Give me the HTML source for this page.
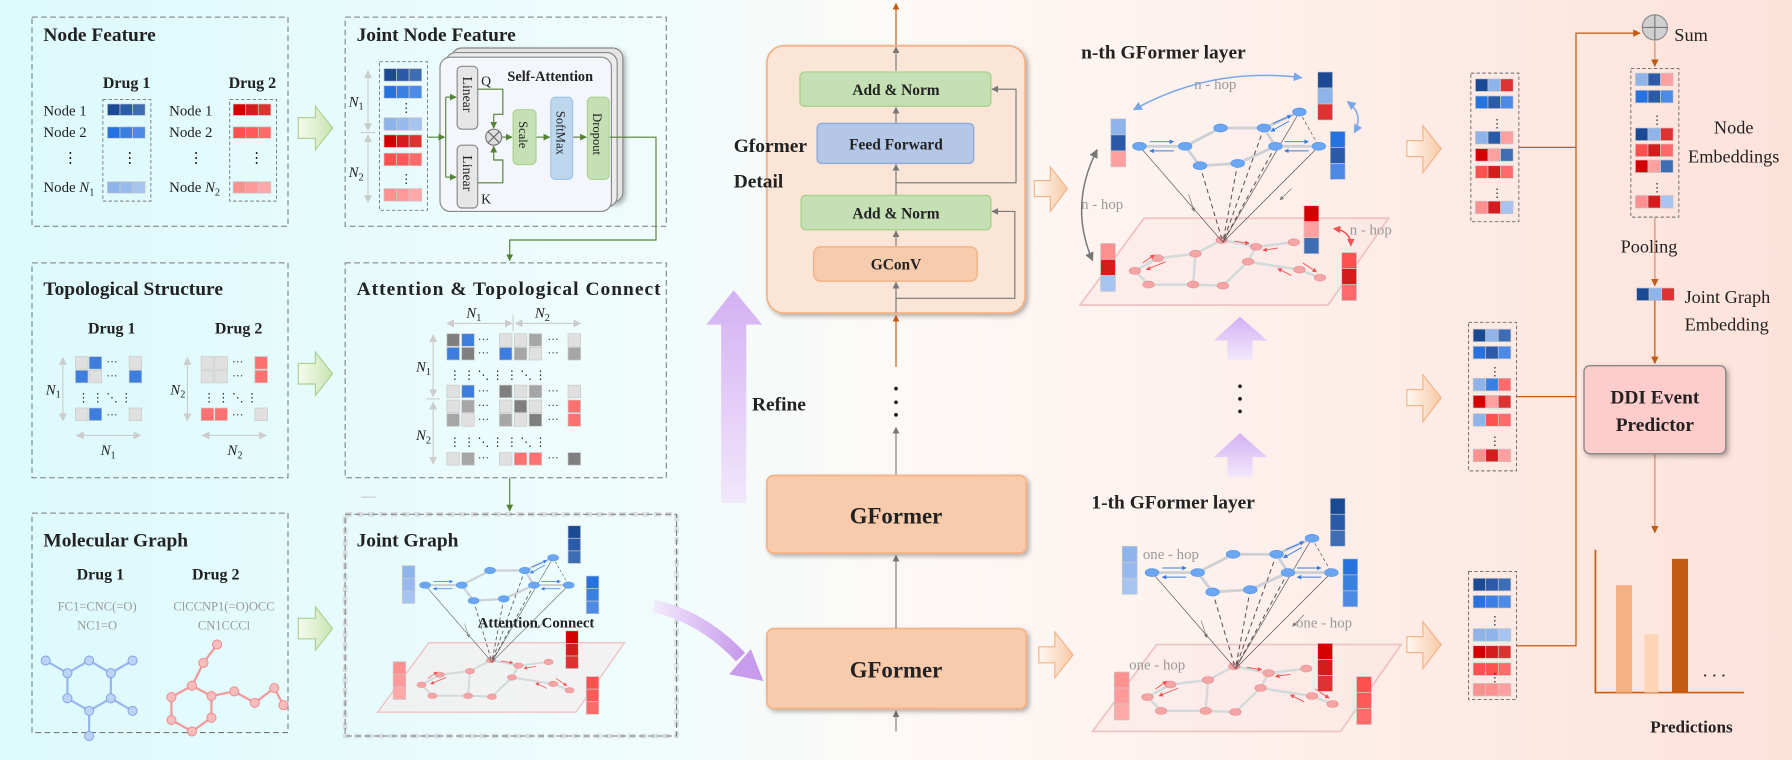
<!DOCTYPE html>
<html><head><meta charset="utf-8"><style>
html,body{margin:0;padding:0;width:1792px;height:760px;overflow:hidden;background:#fff}
svg{display:block}
text{font-family:"Liberation Serif",serif;fill:#222}
.t{font-weight:bold;font-size:17px}
.b{font-weight:bold}
</style></head><body>
<svg width="1792" height="760" viewBox="0 0 1568 665" xmlns="http://www.w3.org/2000/svg">
<defs>
<linearGradient id="bg" x1="0" x2="1" y1="0" y2="0">
<stop offset="0" stop-color="#dcfafc"/><stop offset="0.36" stop-color="#f0fcfc"/><stop offset="0.5" stop-color="#fdf9f7"/><stop offset="1" stop-color="#fde2da"/></linearGradient>
<linearGradient id="ga" x1="0" x2="1"><stop offset="0" stop-color="#f6fbef"/><stop offset="1" stop-color="#c9e3b3"/></linearGradient>
<linearGradient id="oa" x1="0" x2="1"><stop offset="0" stop-color="#fff8f2"/><stop offset="1" stop-color="#f7c9a6"/></linearGradient>
<linearGradient id="pu" x1="0" x2="0" y1="0" y2="1"><stop offset="0" stop-color="#d4b0f3"/><stop offset="1" stop-color="#f1e8fb"/></linearGradient>
<linearGradient id="pu2" x1="0" x2="1"><stop offset="0" stop-color="#f3eafc"/><stop offset="1" stop-color="#c89cec"/></linearGradient>
<marker id="mg" viewBox="0 0 10 10" refX="9" refY="5" markerWidth="6" markerHeight="6" orient="auto-start-reverse"><path d="M0,0L10,5L0,10z" fill="#777"/></marker>
<marker id="mgl" viewBox="0 0 10 10" refX="9" refY="5" markerWidth="7" markerHeight="7" orient="auto-start-reverse"><path d="M0,0L10,5L0,10z" fill="#ccc"/></marker>
<marker id="mgr" viewBox="0 0 10 10" refX="9" refY="5" markerWidth="6" markerHeight="6" orient="auto-start-reverse"><path d="M0,0L10,5L0,10z" fill="#548235"/></marker>
<marker id="mo" viewBox="0 0 10 10" refX="9" refY="5" markerWidth="6" markerHeight="6" orient="auto-start-reverse"><path d="M0,0L10,5L0,10z" fill="#c55a11"/></marker>
<marker id="mb" viewBox="0 0 10 10" refX="9" refY="5" markerWidth="6" markerHeight="6" orient="auto-start-reverse"><path d="M0,0L10,5L0,10z" fill="#7aa6ea"/></marker>
<marker id="mbb" viewBox="0 0 10 10" refX="9" refY="5" markerWidth="5" markerHeight="5" orient="auto"><path d="M0,0L10,5L0,10z" fill="#3a7be0"/></marker>
<marker id="mr" viewBox="0 0 10 10" refX="9" refY="5" markerWidth="5" markerHeight="5" orient="auto-start-reverse"><path d="M0,0L10,5L0,10z" fill="#f05050"/></marker>
<filter id="sh" x="-10%" y="-10%" width="130%" height="130%"><feDropShadow dx="2" dy="2" stdDeviation="2" flood-color="#000" flood-opacity="0.3"/></filter>
<g id="net">
<polygon points="1001,191 1215,191 1162,267 945,267" fill="#fbe4e4" fill-opacity="0.4" stroke="#efc2c2" stroke-width="1.5"/>
<g stroke="#d3dada" stroke-width="2.2" fill="none">
<polyline points="993,237 1013,226 1046,222 1069,210 1099,216 1132,212"/>
<polyline points="993,237 1005,249 1044,249 1046,222"/>
<polyline points="1099,216 1092,229 1137,236 1155,243"/>
<polyline points="1092,229 1070,250"/>
<polyline points="1044,249 1070,250"/>
</g>
<g fill="#f4a5a5" stroke="#ec8c8c" stroke-width="0.6">
<ellipse cx="993" cy="237" rx="5" ry="3"/><ellipse cx="1013" cy="226" rx="5" ry="3"/><ellipse cx="1046" cy="222" rx="5" ry="3"/><ellipse cx="1069" cy="210" rx="5" ry="3"/><ellipse cx="1099" cy="216" rx="5" ry="3"/><ellipse cx="1132" cy="212" rx="5" ry="3"/><ellipse cx="1092" cy="229" rx="5" ry="3"/><ellipse cx="1137" cy="236" rx="5" ry="3"/><ellipse cx="1155" cy="243" rx="5" ry="3"/><ellipse cx="1005" cy="249" rx="5" ry="3"/><ellipse cx="1044" cy="249" rx="5" ry="3"/><ellipse cx="1070" cy="250" rx="5" ry="3"/>
</g>
<g stroke="#f05050" stroke-width="0.8">
<line x1="1000" y1="230" x2="1010" y2="223" marker-end="url(#mr)"/><line x1="1020" y1="229" x2="1003" y2="236" marker-end="url(#mr)"/>
<line x1="1080" y1="211" x2="1093" y2="213" marker-end="url(#mr)"/><line x1="1118" y1="217" x2="1105" y2="219" marker-end="url(#mr)"/>
<line x1="1140" y1="230" x2="1152" y2="238" marker-end="url(#mr)"/><line x1="1130" y1="241" x2="1118" y2="235" marker-end="url(#mr)"/>
</g>
<g stroke="#cdd1d6" stroke-width="2.5" fill="none">
<polyline points="997,128 1037,128 1068,112 1106,112 1137,98"/>
<polyline points="1106,112 1116,128 1154,128"/>
<polyline points="1116,128 1083,143 1050,145 1037,128"/>
</g>
<g stroke="#555" stroke-width="0.6" fill="none">
<line x1="997" y1="128" x2="1070" y2="212"/><line x1="1137" y1="98" x2="1070" y2="212"/><line x1="1154" y1="128" x2="1070" y2="212"/>
<line x1="1137" y1="98" x2="1154" y2="128" stroke-dasharray="3,2"/>
<g stroke-dasharray="4,3" stroke-width="0.9"><line x1="1050" y1="145" x2="1070" y2="212"/><line x1="1106" y1="112" x2="1070" y2="212"/><line x1="1116" y1="128" x2="1070" y2="212"/><line x1="1083" y1="143" x2="1070" y2="212"/></g>
<line x1="1040" y1="170" x2="1045" y2="185" stroke="#777" marker-end="url(#mg)"/><line x1="1130" y1="165" x2="1120" y2="175" stroke="#777" marker-end="url(#mg)"/>
</g>
<g fill="#6aa6f2" stroke="#5896e6" stroke-width="0.6">
<ellipse cx="997" cy="128" rx="6" ry="3.5"/><ellipse cx="1037" cy="128" rx="6" ry="3.5"/><ellipse cx="1068" cy="112" rx="6" ry="3.5"/><ellipse cx="1106" cy="112" rx="6" ry="3.5"/><ellipse cx="1137" cy="98" rx="6" ry="3.5"/><ellipse cx="1116" cy="128" rx="6" ry="3.5"/><ellipse cx="1154" cy="128" rx="6" ry="3.5"/><ellipse cx="1083" cy="143" rx="6" ry="3.5"/><ellipse cx="1050" cy="145" rx="6" ry="3.5"/>
</g>
<g stroke="#3a7be0" stroke-width="0.8">
<line x1="1006" y1="124" x2="1027" y2="124" marker-end="url(#mbb)"/><line x1="1027" y1="132" x2="1006" y2="132" marker-end="url(#mbb)"/>
<line x1="1114" y1="108" x2="1130" y2="101" marker-end="url(#mbb)"/><line x1="1128" y1="106" x2="1112" y2="115" marker-end="url(#mbb)"/>
<line x1="1124" y1="124" x2="1145" y2="124" marker-end="url(#mbb)"/><line x1="1145" y1="132" x2="1124" y2="132" marker-end="url(#mbb)"/>
</g>
</g>
</defs>
<rect width="1568" height="665" fill="url(#bg)"/>

<!-- ===== Node Feature ===== -->
<rect x="28" y="15" width="224" height="183" fill="none" stroke="#777" stroke-dasharray="5,3" stroke-width="0.9"/>
<text x="38" y="36" class="t">Node Feature</text>
<text x="90" y="77" class="b" font-size="14">Drug 1</text>
<text x="200" y="77" class="b" font-size="14">Drug 2</text>
<g font-size="13">
<text x="38" y="101">Node 1</text><text x="38" y="120">Node 2</text><text x="55" y="142">⋮</text>
<text x="38" y="168">Node <tspan font-style="italic">N</tspan><tspan font-size="9" dy="3">1</tspan></text>
<text x="148" y="101">Node 1</text><text x="148" y="120">Node 2</text><text x="165" y="142">⋮</text>
<text x="148" y="168">Node <tspan font-style="italic">N</tspan><tspan font-size="9" dy="3">2</tspan></text>
<text x="107" y="142">⋮</text><text x="218" y="142">⋮</text>
</g>
<rect x="90" y="87" width="42" height="89" fill="none" stroke="#777" stroke-dasharray="3,2" stroke-width="0.8"/>
<rect x="201" y="87" width="41" height="89" fill="none" stroke="#777" stroke-dasharray="3,2" stroke-width="0.8"/>
<g stroke="#c8c8c8" stroke-width="0.6">
<rect x="94" y="91" width="11" height="10" fill="#1a4a94"/><rect x="105" y="91" width="11" height="10" fill="#2b5aa8"/><rect x="116" y="91" width="11" height="10" fill="#3e6db3"/>
<rect x="94" y="111" width="11" height="10" fill="#2673e0"/><rect x="105" y="111" width="11" height="10" fill="#3a80e0"/><rect x="116" y="111" width="11" height="10" fill="#4d8ae6"/>
<rect x="94" y="159" width="11" height="10" fill="#8fb4ea"/><rect x="105" y="159" width="11" height="10" fill="#97b9ee"/><rect x="116" y="159" width="11" height="10" fill="#a7c4f0"/>
<rect x="204" y="91" width="11" height="10" fill="#d40000"/><rect x="215" y="91" width="11" height="10" fill="#d41c1c"/><rect x="226" y="91" width="11" height="10" fill="#dc3232"/>
<rect x="204" y="111" width="11" height="10" fill="#ff5050"/><rect x="215" y="111" width="11" height="10" fill="#ff5a5a"/><rect x="226" y="111" width="11" height="10" fill="#ff6b6b"/>
<rect x="204" y="159" width="11" height="10" fill="#ff9090"/><rect x="215" y="159" width="11" height="10" fill="#ff9a9a"/><rect x="226" y="159" width="11" height="10" fill="#ffa8a8"/>
</g>
<g fill="url(#ga)" stroke="#a9d18e" stroke-width="1">
<polygon points="261,103 276,103 276,93 291,112 276,131 276,121 261,121"/>
<polygon points="261,318 276,318 276,308 291,327 276,346 276,336 261,336"/>
<polygon points="261,541 276,541 276,531 291,550 276,569 276,559 261,559"/>
</g>

<!-- ===== Joint Node Feature ===== -->
<rect x="302" y="15" width="281" height="183" fill="none" stroke="#777" stroke-dasharray="5,3" stroke-width="0.9"/>
<text x="312" y="36" class="t">Joint Node Feature</text>
<g stroke="#ccc" stroke-width="1"><line x1="322" y1="62" x2="322" y2="114" marker-start="url(#mgl)" marker-end="url(#mgl)"/><line x1="322" y1="118" x2="322" y2="177" marker-start="url(#mgl)" marker-end="url(#mgl)"/><line x1="316" y1="116" x2="328" y2="116"/></g>
<text x="305" y="93" font-size="13" font-style="italic">N<tspan font-size="9" dy="3" font-style="normal">1</tspan></text>
<text x="305" y="155" font-size="13" font-style="italic">N<tspan font-size="9" dy="3" font-style="normal">2</tspan></text>
<rect x="332" y="54" width="42" height="130" fill="none" stroke="#777" stroke-dasharray="3,2" stroke-width="0.8"/>
<g stroke="#c8c8c8" stroke-width="0.6">
<rect x="336" y="60" width="11" height="11" fill="#1a4a94"/><rect x="347" y="60" width="11" height="11" fill="#2b5aa8"/><rect x="358" y="60" width="11" height="11" fill="#3e6db3"/>
<rect x="336" y="75" width="11" height="11" fill="#2673e0"/><rect x="347" y="75" width="11" height="11" fill="#3a80e0"/><rect x="358" y="75" width="11" height="11" fill="#4d8ae6"/>
<rect x="336" y="103" width="11" height="11" fill="#8fb4ea"/><rect x="347" y="103" width="11" height="11" fill="#97b9ee"/><rect x="358" y="103" width="11" height="11" fill="#a7c4f0"/>
<rect x="336" y="118" width="11" height="11" fill="#d40000"/><rect x="347" y="118" width="11" height="11" fill="#d41c1c"/><rect x="358" y="118" width="11" height="11" fill="#dc3232"/>
<rect x="336" y="134" width="11" height="11" fill="#ff5050"/><rect x="347" y="134" width="11" height="11" fill="#ff5a5a"/><rect x="358" y="134" width="11" height="11" fill="#ff6b6b"/>
<rect x="336" y="165" width="11" height="11" fill="#ff9090"/><rect x="347" y="165" width="11" height="11" fill="#ff9a9a"/><rect x="358" y="165" width="11" height="11" fill="#ffa8a8"/>
</g>
<text x="350" y="98" font-size="11">⋮</text><text x="350" y="160" font-size="11">⋮</text>
<rect x="395" y="42" width="150" height="135" rx="9" fill="#e4e4e4" stroke="#888" filter="url(#sh)"/>
<rect x="390" y="46" width="150" height="135" rx="9" fill="#ececec" stroke="#888"/>
<rect x="385" y="50" width="150" height="135" rx="9" fill="#f3f6fb" stroke="#888"/>
<rect x="400" y="58" width="18" height="55" rx="4" fill="#e6e6e6" stroke="#888"/>
<rect x="400" y="127" width="18" height="55" rx="4" fill="#e6e6e6" stroke="#888"/>
<text transform="translate(405,67) rotate(90)" font-size="12">Linear</text>
<text transform="translate(405,136) rotate(90)" font-size="12">Linear</text>
<text x="421" y="75" font-size="12">Q</text><text x="421" y="178" font-size="12">K</text>
<text x="444" y="71" class="b" font-size="12.5">Self-Attention</text>
<g stroke="#548235" stroke-width="1" fill="none">
<line x1="374" y1="120" x2="389" y2="120" marker-end="url(#mgr)"/>
<polyline points="390,85 390,155"/>
<line x1="390" y1="85" x2="399" y2="85" marker-end="url(#mgr)"/><line x1="390" y1="155" x2="399" y2="155" marker-end="url(#mgr)"/>
<polyline points="418,78 440,78 440,100 432,100 432,112" marker-end="url(#mgr)"/>
<polyline points="418,160 440,160 440,140 432,140 432,128" marker-end="url(#mgr)"/>
<line x1="439" y1="120" x2="448" y2="120" marker-end="url(#mgr)"/>
<line x1="469" y1="120" x2="481" y2="120" marker-end="url(#mgr)"/>
<line x1="501" y1="120" x2="513" y2="120" marker-end="url(#mgr)"/>
<polyline points="533,120 574,120 574,210 446,210 446,228" marker-end="url(#mgr)"/>
</g>
<circle cx="432" cy="120" r="7" fill="#ddd" stroke="#777"/>
<path d="M427,115L437,125M437,115L427,125" stroke="#666"/>
<rect x="449" y="96" width="20" height="48" rx="4" fill="#c5e0b4" stroke="#a9d18e"/>
<rect x="482" y="85" width="19" height="72" rx="4" fill="#bdd7ee" stroke="#9dc3e6"/>
<rect x="514" y="85" width="19" height="72" rx="4" fill="#c5e0b4" stroke="#a9d18e"/>
<text transform="translate(454,106) rotate(90)" font-size="11">Scale</text>
<text transform="translate(487,97) rotate(90)" font-size="11">SoftMax</text>
<text transform="translate(519,99) rotate(90)" font-size="11">Dropout</text>

<!-- ===== Topological ===== -->
<rect x="28" y="230" width="224" height="188" fill="none" stroke="#777" stroke-dasharray="5,3" stroke-width="0.9"/>
<text x="38" y="258" class="t">Topological Structure</text>
<text x="77" y="292" class="b" font-size="14">Drug 1</text>
<text x="188" y="292" class="b" font-size="14">Drug 2</text>
<g stroke="#c8c8c8" stroke-width="0.6">
<rect x="66" y="312" width="11" height="11" fill="#e0e0e0"/><rect x="78" y="312" width="11" height="11" fill="#3c7ddd"/><rect x="113" y="312" width="11" height="11" fill="#e0e0e0"/>
<rect x="66" y="324" width="11" height="11" fill="#3c7ddd"/><rect x="78" y="324" width="11" height="11" fill="#e0e0e0"/><rect x="113" y="324" width="11" height="11" fill="#3c7ddd"/>
<rect x="66" y="357" width="11" height="11" fill="#e0e0e0"/><rect x="78" y="357" width="11" height="11" fill="#3c7ddd"/><rect x="113" y="357" width="11" height="11" fill="#e0e0e0"/>
<rect x="176" y="312" width="11" height="11" fill="#e0e0e0"/><rect x="188" y="312" width="11" height="11" fill="#e0e0e0"/><rect x="223" y="312" width="11" height="11" fill="#ff7070"/>
<rect x="176" y="324" width="11" height="11" fill="#e0e0e0"/><rect x="188" y="324" width="11" height="11" fill="#e0e0e0"/><rect x="223" y="324" width="11" height="11" fill="#ff7070"/>
<rect x="176" y="357" width="11" height="11" fill="#ff7070"/><rect x="188" y="357" width="11" height="11" fill="#ff7070"/><rect x="223" y="357" width="11" height="11" fill="#e0e0e0"/>
</g>
<g font-size="10" fill="#333">
<text x="93" y="320">···</text><text x="93" y="332">···</text><text x="93" y="366">···</text>
<text x="203" y="320">···</text><text x="203" y="332">···</text><text x="203" y="366">···</text>
<text x="68" y="351">⋮  ⋮  ⋱  ⋮</text><text x="178" y="351">⋮  ⋮  ⋱  ⋮</text>
</g>
<g stroke="#ccc" stroke-width="1">
<line x1="55" y1="313" x2="55" y2="368" marker-start="url(#mgl)" marker-end="url(#mgl)"/>
<line x1="164" y1="313" x2="164" y2="368" marker-start="url(#mgl)" marker-end="url(#mgl)"/>
<line x1="67" y1="381" x2="123" y2="381" marker-start="url(#mgl)" marker-end="url(#mgl)"/>
<line x1="177" y1="381" x2="233" y2="381" marker-start="url(#mgl)" marker-end="url(#mgl)"/>
</g>
<text x="40" y="345" font-size="13" font-style="italic">N<tspan font-size="9" dy="3" font-style="normal">1</tspan></text>
<text x="149" y="345" font-size="13" font-style="italic">N<tspan font-size="9" dy="3" font-style="normal">2</tspan></text>
<text x="88" y="398" font-size="13" font-style="italic">N<tspan font-size="9" dy="3" font-style="normal">1</tspan></text>
<text x="199" y="398" font-size="13" font-style="italic">N<tspan font-size="9" dy="3" font-style="normal">2</tspan></text>

<!-- ===== Attention & Topological Connect ===== -->
<rect x="302" y="230" width="281" height="188" fill="none" stroke="#777" stroke-dasharray="5,3" stroke-width="0.9"/>
<text x="312" y="258" class="t" textLength="266">Attention &amp; Topological Connect</text>
<g stroke="#ccc" stroke-width="1">
<line x1="391" y1="283" x2="448" y2="283" marker-start="url(#mgl)" marker-end="url(#mgl)"/>
<line x1="451" y1="283" x2="508" y2="283" marker-start="url(#mgl)" marker-end="url(#mgl)"/>
<line x1="379" y1="293" x2="379" y2="347" marker-start="url(#mgl)" marker-end="url(#mgl)"/>
<line x1="379" y1="352" x2="379" y2="406" marker-start="url(#mgl)" marker-end="url(#mgl)"/>
<line x1="449" y1="276" x2="449" y2="290"/><line x1="373" y1="349" x2="385" y2="349"/>
</g>
<text x="408" y="278" font-size="13" font-style="italic">N<tspan font-size="9" dy="3" font-style="normal">1</tspan></text>
<text x="468" y="278" font-size="13" font-style="italic">N<tspan font-size="9" dy="3" font-style="normal">2</tspan></text>
<text x="364" y="325" font-size="13" font-style="italic">N<tspan font-size="9" dy="3" font-style="normal">1</tspan></text>
<text x="364" y="385" font-size="13" font-style="italic">N<tspan font-size="9" dy="3" font-style="normal">2</tspan></text>
<g stroke="#c8c8c8" stroke-width="0.6">
<rect x="391" y="292" width="11" height="11" fill="#7f7f7f"/><rect x="404" y="292" width="11" height="11" fill="#3c7ddd"/><rect x="437" y="292" width="11" height="11" fill="#e0e0e0"/><rect x="450" y="292" width="11" height="11" fill="#e0e0e0"/><rect x="463" y="292" width="11" height="11" fill="#a6a6a6"/><rect x="497" y="292" width="11" height="11" fill="#e0e0e0"/>
<rect x="391" y="304" width="11" height="11" fill="#3c7ddd"/><rect x="404" y="304" width="11" height="11" fill="#7f7f7f"/><rect x="437" y="304" width="11" height="11" fill="#3c7ddd"/><rect x="450" y="304" width="11" height="11" fill="#a6a6a6"/><rect x="463" y="304" width="11" height="11" fill="#e0e0e0"/><rect x="497" y="304" width="11" height="11" fill="#a6a6a6"/>
<rect x="391" y="337" width="11" height="11" fill="#e0e0e0"/><rect x="404" y="337" width="11" height="11" fill="#3c7ddd"/><rect x="437" y="337" width="11" height="11" fill="#7f7f7f"/><rect x="450" y="337" width="11" height="11" fill="#e0e0e0"/><rect x="463" y="337" width="11" height="11" fill="#a6a6a6"/><rect x="497" y="337" width="11" height="11" fill="#e0e0e0"/>
<rect x="391" y="350" width="11" height="11" fill="#e0e0e0"/><rect x="404" y="350" width="11" height="11" fill="#a6a6a6"/><rect x="437" y="350" width="11" height="11" fill="#e0e0e0"/><rect x="450" y="350" width="11" height="11" fill="#7f7f7f"/><rect x="463" y="350" width="11" height="11" fill="#e0e0e0"/><rect x="497" y="350" width="11" height="11" fill="#ff7070"/>
<rect x="391" y="362" width="11" height="11" fill="#a6a6a6"/><rect x="404" y="362" width="11" height="11" fill="#e0e0e0"/><rect x="437" y="362" width="11" height="11" fill="#a6a6a6"/><rect x="450" y="362" width="11" height="11" fill="#e0e0e0"/><rect x="463" y="362" width="11" height="11" fill="#7f7f7f"/><rect x="497" y="362" width="11" height="11" fill="#ff7070"/>
<rect x="391" y="396" width="11" height="11" fill="#e0e0e0"/><rect x="404" y="396" width="11" height="11" fill="#a6a6a6"/><rect x="437" y="396" width="11" height="11" fill="#e0e0e0"/><rect x="450" y="396" width="11" height="11" fill="#ff7070"/><rect x="463" y="396" width="11" height="11" fill="#ff7070"/><rect x="497" y="396" width="11" height="11" fill="#7f7f7f"/>
</g>
<g font-size="10" fill="#333">
<text x="418" y="300">···</text><text x="418" y="312">···</text><text x="418" y="345">···</text><text x="418" y="358">···</text><text x="418" y="370">···</text><text x="418" y="404">···</text>
<text x="479" y="300">···</text><text x="479" y="312">···</text><text x="479" y="345">···</text><text x="479" y="358">···</text><text x="479" y="370">···</text><text x="479" y="404">···</text>
<text x="393" y="331">⋮  ⋮  ⋱  ⋮  ⋮  ⋱  ⋮</text><text x="393" y="390">⋮  ⋮  ⋱  ⋮  ⋮  ⋱  ⋮</text>
</g>
<line x1="446" y1="418" x2="446" y2="447" stroke="#548235" marker-end="url(#mgr)"/>
<line x1="316" y1="435" x2="329" y2="435" stroke="#ccc"/>

<!-- ===== Molecular Graph ===== -->
<rect x="28" y="449" width="224" height="192" fill="none" stroke="#777" stroke-dasharray="5,3" stroke-width="0.9"/>
<text x="38" y="478" class="t">Molecular Graph</text>
<text x="67" y="507" class="b" font-size="14">Drug 1</text>
<text x="168" y="507" class="b" font-size="14">Drug 2</text>
<g font-size="11" fill="#999" text-anchor="middle" style="fill:#999">
<text x="85" y="534" style="fill:#999">FC1=CNC(=O)</text><text x="85" y="551" style="fill:#999">NC1=O</text>
<text x="196" y="534" style="fill:#999">ClCCNP1(=O)OCC</text><text x="196" y="551" style="fill:#999">CN1CCCl</text>
</g>
<g stroke="#9bb8ee" stroke-width="2" fill="none">
<polygon points="97,589 78,578 59,589 59,611 78,622 97,611"/>
<line x1="40" y1="578" x2="59" y2="589"/><line x1="116" y1="578" x2="97" y2="589"/><line x1="78" y1="644" x2="78" y2="622"/><line x1="116" y1="622" x2="97" y2="611"/>
</g>
<g fill="#bcd2f6" stroke="#7da2e0" stroke-width="0.8">
<circle cx="97" cy="589" r="4"/><circle cx="78" cy="578" r="4"/><circle cx="59" cy="589" r="4"/><circle cx="59" cy="611" r="4"/><circle cx="78" cy="622" r="4"/><circle cx="97" cy="611" r="4"/><circle cx="40" cy="578" r="4"/><circle cx="116" cy="578" r="4"/><circle cx="78" cy="644" r="4"/><circle cx="116" cy="622" r="4"/>
</g>
<g transform="translate(0,12)">
<g stroke="#f29a9a" stroke-width="2" fill="none">
<polygon points="150,598 150,618 168,628 185,616 185,597 168,588"/>
<polyline points="168,588 178,568 190,552"/>
<polyline points="185,597 205,593 223,603 240,590 248,605"/>
</g>
<g fill="#f9bcbc" stroke="#e88a8a" stroke-width="0.8">
<circle cx="150" cy="598" r="4"/><circle cx="150" cy="618" r="4"/><circle cx="168" cy="628" r="4"/><circle cx="185" cy="616" r="4"/><circle cx="185" cy="597" r="4"/><circle cx="168" cy="588" r="4"/><circle cx="178" cy="568" r="4"/><circle cx="190" cy="552" r="4"/><circle cx="205" cy="593" r="4"/><circle cx="223" cy="603" r="4"/><circle cx="240" cy="590" r="4"/><circle cx="248" cy="605" r="4"/>
</g>
</g>

<!-- ===== Joint Graph ===== -->
<rect x="302" y="450" width="290" height="194" fill="none" stroke="#ccc" stroke-width="4" stroke-dasharray="6,4" opacity="0.6"/>
<rect x="302" y="450" width="290" height="194" fill="none" stroke="#777" stroke-dasharray="5,3" stroke-width="0.9"/>
<text x="312" y="478" class="t">Joint Graph</text>
<use href="#net" transform="translate(-425.6,409.6) scale(0.8)"/>
<text x="418" y="549" class="b" font-size="13">Attention Connect</text>
<g stroke="#c8c8c8" stroke-width="0.6">
<rect x="352" y="495" width="11" height="11" fill="#8fb4ea"/><rect x="352" y="506" width="11" height="11" fill="#97b9ee"/><rect x="352" y="517" width="11" height="11" fill="#a7c4f0"/>
<rect x="497" y="460" width="11" height="11" fill="#1a4a94"/><rect x="497" y="471" width="11" height="11" fill="#2b5aa8"/><rect x="497" y="482" width="11" height="11" fill="#3e6db3"/>
<rect x="513" y="504" width="11" height="11" fill="#2673e0"/><rect x="513" y="515" width="11" height="11" fill="#3a80e0"/><rect x="513" y="526" width="11" height="11" fill="#4d8ae6"/>
<rect x="495" y="552" width="11" height="11" fill="#d40000"/><rect x="495" y="563" width="11" height="11" fill="#d41c1c"/><rect x="495" y="574" width="11" height="11" fill="#dc3232"/>
<rect x="344" y="579" width="11" height="11" fill="#ff9090"/><rect x="344" y="590" width="11" height="11" fill="#ff9a9a"/><rect x="344" y="601" width="11" height="11" fill="#ffa8a8"/>
<rect x="513" y="592" width="11" height="11" fill="#ff5050"/><rect x="513" y="603" width="11" height="11" fill="#ff5a5a"/><rect x="513" y="614" width="11" height="11" fill="#ff6b6b"/>
</g>

<!-- ===== middle ===== -->
<path d="M572,530 Q615,540 648,575" stroke="url(#pu2)" stroke-width="11" fill="none"/>
<polygon points="668,596 638,590 657,568" fill="#c89cec"/>
<polygon points="642,254 618,284 631,284 631,440 653,440 653,284 667,284" fill="url(#pu)"/>
<text x="658" y="359" class="t">Refine</text>

<line x1="784" y1="40" x2="784" y2="3" stroke="#c55a11" marker-end="url(#mo)"/>
<rect x="671" y="40" width="226" height="234" rx="15" fill="#fbe5d6" stroke="#f4b183" stroke-width="1.5" filter="url(#sh)"/>
<g stroke="#777" stroke-width="1" fill="none">
<line x1="784" y1="62" x2="784" y2="41" marker-end="url(#mg)"/>
<line x1="784" y1="108" x2="784" y2="94" marker-end="url(#mg)"/>
<line x1="784" y1="171" x2="784" y2="144" marker-end="url(#mg)"/>
<line x1="784" y1="216" x2="784" y2="202" marker-end="url(#mg)"/>
<line x1="784" y1="274" x2="784" y2="247" marker-end="url(#mg)"/>
<polyline points="784,160 889,160 889,78 868,78" marker-end="url(#mg)"/>
<polyline points="784,261 888,261 888,185 868,185" marker-end="url(#mg)"/>
</g>
<rect x="700" y="63" width="167" height="30" rx="4" fill="#c5e0b4" stroke="#a9d18e" stroke-width="1.2"/>
<rect x="715" y="108" width="137" height="35" rx="4" fill="#b4c7e7" stroke="#8faadc" stroke-width="1.2"/>
<rect x="701" y="171" width="166" height="30" rx="4" fill="#c5e0b4" stroke="#a9d18e" stroke-width="1.2"/>
<rect x="712" y="216" width="143" height="30" rx="6" fill="#f8cbad" stroke="#f4b183" stroke-width="1.2"/>
<g text-anchor="middle" class="b" font-size="13.5">
<text x="784" y="83" class="b">Add &amp; Norm</text>
<text x="784" y="131" class="b">Feed Forward</text>
<text x="784" y="191" class="b">Add &amp; Norm</text>
<text x="784" y="236" class="b">GConV</text>
</g>
<text x="642" y="133" class="t">Gformer</text>
<text x="642" y="164" class="t">Detail</text>
<line x1="784" y1="321" x2="784" y2="276" stroke="#c55a11" marker-end="url(#mo)"/>
<circle cx="784" cy="340" r="1.6" fill="#111"/><circle cx="784" cy="352" r="1.6" fill="#111"/><circle cx="784" cy="363" r="1.6" fill="#111"/>
<line x1="784" y1="415" x2="784" y2="374" stroke="#777" marker-end="url(#mg)"/>
<line x1="784" y1="550" x2="784" y2="486" stroke="#777" marker-end="url(#mg)"/>
<line x1="784" y1="640" x2="784" y2="622" stroke="#777" marker-end="url(#mg)"/>
<rect x="671" y="416" width="227" height="68" rx="6" fill="#f8cbad" stroke="#f4b183" stroke-width="1.5" filter="url(#sh)"/>
<rect x="671" y="550" width="227" height="70" rx="6" fill="#f8cbad" stroke="#f4b183" stroke-width="1.5" filter="url(#sh)"/>
<text x="784" y="458" text-anchor="middle" class="b" font-size="20">GFormer</text>
<text x="784" y="593" text-anchor="middle" class="b" font-size="20">GFormer</text>

<g fill="url(#oa)" stroke="#f4b183" stroke-width="1">
<polygon points="905,158 919,158 919,146 934,165 919,185 919,172 905,172"/>
<polygon points="909,566 923,566 923,553 939,573 923,593 923,580 909,580"/>
<polygon points="1231,123 1245,123 1245,110 1261,130 1245,151 1245,137 1231,137"/>
<polygon points="1231,341 1245,341 1245,328 1261,348 1245,369 1245,355 1231,355"/>
<polygon points="1231,557 1245,557 1245,544 1261,564 1245,585 1245,571 1231,571"/>
</g>

<!-- ===== n-th layer ===== -->
<text x="946" y="51" class="t" font-size="16">n-th GFormer layer</text>
<use href="#net"/>
<g font-size="13" style="fill:#999"><text x="1045" y="78" style="fill:#999">n - hop</text><text x="946" y="183" style="fill:#999">n - hop</text><text x="1181" y="205" style="fill:#999">n - hop</text></g>
<path d="M992,96 Q1060,58 1139,68" stroke="#7aa6ea" stroke-width="1.3" fill="none" marker-start="url(#mb)" marker-end="url(#mb)"/>
<path d="M960,131 Q935,180 956,228" stroke="#777" stroke-width="1.3" fill="none" marker-start="url(#mg)" marker-end="url(#mg)"/>
<path d="M1179,89 Q1194,100 1185,116" stroke="#7aa6ea" stroke-width="1.3" fill="none" marker-start="url(#mb)" marker-end="url(#mb)"/>
<path d="M1167,200 Q1182,202 1182,215" stroke="#f05050" stroke-width="1.3" fill="none" marker-start="url(#mr)" marker-end="url(#mr)"/>
<g stroke="#c8c8c8" stroke-width="0.6">
<rect x="972" y="104" width="13" height="14" fill="#8fb4ea"/><rect x="972" y="118" width="13" height="14" fill="#2b5aa8"/><rect x="972" y="132" width="13" height="14" fill="#ffa0a0"/>
<rect x="963" y="213" width="13" height="14" fill="#ff9090"/><rect x="963" y="227" width="13" height="14" fill="#d41c1c"/><rect x="963" y="241" width="13" height="14" fill="#a7c4f0"/>
<rect x="1153" y="63" width="13" height="14" fill="#1a4a94"/><rect x="1153" y="77" width="13" height="14" fill="#8fb4ea"/><rect x="1153" y="91" width="13" height="14" fill="#dc3232"/>
<rect x="1164" y="115" width="13" height="14" fill="#2673e0"/><rect x="1164" y="129" width="13" height="14" fill="#2b5aa8"/><rect x="1164" y="143" width="13" height="14" fill="#4d8ae6"/>
<rect x="1141" y="180" width="13" height="14" fill="#d40000"/><rect x="1141" y="194" width="13" height="14" fill="#ffa0a0"/><rect x="1141" y="208" width="13" height="14" fill="#3e6db3"/>
<rect x="1174" y="221" width="13" height="14" fill="#ff5050"/><rect x="1174" y="235" width="13" height="14" fill="#d41c1c"/><rect x="1174" y="249" width="13" height="14" fill="#ff6b6b"/>
</g>

<polygon points="1085,277 1062,298 1074,298 1074,315 1096,315 1096,298 1109,298" fill="url(#pu)"/>
<polygon points="1085,379 1062,400 1074,400 1074,417 1096,417 1096,400 1109,400" fill="url(#pu)"/>
<circle cx="1085" cy="338" r="1.6" fill="#111"/><circle cx="1085" cy="349" r="1.6" fill="#111"/><circle cx="1085" cy="360" r="1.6" fill="#111"/>

<!-- ===== 1-th layer ===== -->
<text x="955" y="445" class="t" font-size="16">1-th GFormer layer</text>
<use href="#net" transform="translate(11,373)"/>
<g font-size="13" style="fill:#999"><text x="1000" y="489" style="fill:#999">one - hop</text><text x="1134" y="549" style="fill:#999">one - hop</text><text x="988" y="586" style="fill:#999">one - hop</text></g>
<g stroke="#c8c8c8" stroke-width="0.6">
<rect x="982" y="478" width="13" height="14" fill="#8fb4ea"/><rect x="982" y="492" width="13" height="14" fill="#97b9ee"/><rect x="982" y="506" width="13" height="14" fill="#a7c4f0"/>
<rect x="1164" y="436" width="13" height="14" fill="#1a4a94"/><rect x="1164" y="450" width="13" height="14" fill="#2b5aa8"/><rect x="1164" y="464" width="13" height="14" fill="#3e6db3"/>
<rect x="1175" y="489" width="13" height="14" fill="#2673e0"/><rect x="1175" y="503" width="13" height="14" fill="#3a80e0"/><rect x="1175" y="517" width="13" height="14" fill="#4d8ae6"/>
<rect x="1153" y="563" width="13" height="14" fill="#d40000"/><rect x="1153" y="577" width="13" height="14" fill="#d41c1c"/><rect x="1153" y="591" width="13" height="14" fill="#dc3232"/>
<rect x="975" y="588" width="13" height="14" fill="#ff9090"/><rect x="975" y="602" width="13" height="14" fill="#ff9a9a"/><rect x="975" y="616" width="13" height="14" fill="#ffa8a8"/>
<rect x="1187" y="592" width="13" height="14" fill="#ff5050"/><rect x="1187" y="606" width="13" height="14" fill="#ff5a5a"/><rect x="1187" y="620" width="13" height="14" fill="#ff6b6b"/>
</g>

<!-- ===== right stacks ===== -->
<g fill="none" stroke="#666" stroke-dasharray="3,2" stroke-width="0.8">
<rect x="1287" y="64" width="42" height="130"/><rect x="1285" y="282" width="42" height="130"/><rect x="1285" y="500" width="42" height="112"/><rect x="1427" y="60" width="42" height="130"/>
</g>
<g stroke="#c8c8c8" stroke-width="0.6">
<rect x="1291" y="69" width="11" height="11" fill="#1a4a94"/><rect x="1302" y="69" width="11" height="11" fill="#8fb4ea"/><rect x="1313" y="69" width="11" height="11" fill="#dc3232"/>
<rect x="1291" y="84" width="11" height="11" fill="#2673e0"/><rect x="1302" y="84" width="11" height="11" fill="#2b5aa8"/><rect x="1313" y="84" width="11" height="11" fill="#4d8ae6"/>
<rect x="1291" y="115" width="11" height="11" fill="#8fb4ea"/><rect x="1302" y="115" width="11" height="11" fill="#2b5aa8"/><rect x="1313" y="115" width="11" height="11" fill="#ffa0a0"/>
<rect x="1291" y="130" width="11" height="11" fill="#d40000"/><rect x="1302" y="130" width="11" height="11" fill="#ffa0a0"/><rect x="1313" y="130" width="11" height="11" fill="#3e6db3"/>
<rect x="1291" y="145" width="11" height="11" fill="#ff5050"/><rect x="1302" y="145" width="11" height="11" fill="#d41c1c"/><rect x="1313" y="145" width="11" height="11" fill="#ff6b6b"/>
<rect x="1291" y="176" width="11" height="11" fill="#ff9090"/><rect x="1302" y="176" width="11" height="11" fill="#d41c1c"/><rect x="1313" y="176" width="11" height="11" fill="#a7c4f0"/>

<rect x="1289" y="288" width="11" height="11" fill="#1a4a94"/><rect x="1300" y="288" width="11" height="11" fill="#8fb4ea"/><rect x="1311" y="288" width="11" height="11" fill="#3e6db3"/>
<rect x="1289" y="303" width="11" height="11" fill="#2673e0"/><rect x="1300" y="303" width="11" height="11" fill="#2b5aa8"/><rect x="1311" y="303" width="11" height="11" fill="#4d8ae6"/>
<rect x="1289" y="331" width="11" height="11" fill="#8fb4ea"/><rect x="1300" y="331" width="11" height="11" fill="#3a80e0"/><rect x="1311" y="331" width="11" height="11" fill="#ff6b6b"/>
<rect x="1289" y="346" width="11" height="11" fill="#d40000"/><rect x="1300" y="346" width="11" height="11" fill="#ffa0a0"/><rect x="1311" y="346" width="11" height="11" fill="#dc3232"/>
<rect x="1289" y="362" width="11" height="11" fill="#8fb4ea"/><rect x="1300" y="362" width="11" height="11" fill="#ff5050"/><rect x="1311" y="362" width="11" height="11" fill="#ff6b6b"/>
<rect x="1289" y="393" width="11" height="11" fill="#ff9090"/><rect x="1300" y="393" width="11" height="11" fill="#d41c1c"/><rect x="1311" y="393" width="11" height="11" fill="#ffa0a0"/>

<rect x="1289" y="506" width="11" height="11" fill="#1a4a94"/><rect x="1300" y="506" width="11" height="11" fill="#2b5aa8"/><rect x="1311" y="506" width="11" height="11" fill="#3e6db3"/>
<rect x="1289" y="521" width="11" height="11" fill="#2673e0"/><rect x="1300" y="521" width="11" height="11" fill="#3a80e0"/><rect x="1311" y="521" width="11" height="11" fill="#4d8ae6"/>
<rect x="1289" y="550" width="11" height="11" fill="#8fb4ea"/><rect x="1300" y="550" width="11" height="11" fill="#8fb4ea"/><rect x="1311" y="550" width="11" height="11" fill="#a7c4f0"/>
<rect x="1289" y="565" width="11" height="11" fill="#d40000"/><rect x="1300" y="565" width="11" height="11" fill="#d41c1c"/><rect x="1311" y="565" width="11" height="11" fill="#dc3232"/>
<rect x="1289" y="580" width="11" height="11" fill="#ff5050"/><rect x="1300" y="580" width="11" height="11" fill="#ff5050"/><rect x="1311" y="580" width="11" height="11" fill="#ff6b6b"/>
<rect x="1289" y="598" width="11" height="11" fill="#ff9090"/><rect x="1300" y="598" width="11" height="11" fill="#ff9090"/><rect x="1311" y="598" width="11" height="11" fill="#ffa0a0"/>

<rect x="1431" y="64" width="11" height="11" fill="#8fb4ea"/><rect x="1442" y="64" width="11" height="11" fill="#2b5aa8"/><rect x="1453" y="64" width="11" height="11" fill="#ffa0a0"/>
<rect x="1431" y="79" width="11" height="11" fill="#2673e0"/><rect x="1442" y="79" width="11" height="11" fill="#2b5aa8"/><rect x="1453" y="79" width="11" height="11" fill="#4d8ae6"/>
<rect x="1431" y="112" width="11" height="11" fill="#1a4a94"/><rect x="1442" y="112" width="11" height="11" fill="#8fb4ea"/><rect x="1453" y="112" width="11" height="11" fill="#dc3232"/>
<rect x="1431" y="126" width="11" height="11" fill="#ff5050"/><rect x="1442" y="126" width="11" height="11" fill="#d41c1c"/><rect x="1453" y="126" width="11" height="11" fill="#ff6b6b"/>
<rect x="1431" y="140" width="11" height="11" fill="#d40000"/><rect x="1442" y="140" width="11" height="11" fill="#ffa0a0"/><rect x="1453" y="140" width="11" height="11" fill="#3e6db3"/>
<rect x="1431" y="171" width="11" height="11" fill="#ff9090"/><rect x="1442" y="171" width="11" height="11" fill="#d41c1c"/><rect x="1453" y="171" width="11" height="11" fill="#a7c4f0"/>

<rect x="1432" y="252" width="11" height="11" fill="#1a4a94"/><rect x="1443" y="252" width="11" height="11" fill="#8fb4ea"/><rect x="1454" y="252" width="11" height="11" fill="#dc3232"/>
</g>
<g font-size="10" fill="#333">
<text x="1305" y="111">⋮</text><text x="1305" y="172">⋮</text><text x="1303" y="328">⋮</text><text x="1303" y="389">⋮</text><text x="1303" y="546">⋮</text><text x="1303" y="596">⋮</text><text x="1445" y="108">⋮</text><text x="1445" y="167">⋮</text>
</g>

<g stroke="#c55a11" stroke-width="1.1" fill="none">
<polyline points="1329,129 1379,129"/><polyline points="1327,347 1379,347"/><polyline points="1327,565 1379,565 1379,29 1435,29" marker-end="url(#mo)"/>
<line x1="1448" y1="36" x2="1448" y2="58" stroke="#d9926a" marker-end="url(#mo)"/>
<line x1="1448" y1="190" x2="1448" y2="250" stroke="#d9926a" marker-end="url(#mo)"/>
<line x1="1448" y1="263" x2="1448" y2="318" marker-end="url(#mo)"/>
<line x1="1448" y1="397" x2="1448" y2="466" stroke="#d9926a" marker-end="url(#mo)"/>
</g>
<circle cx="1448" cy="24" r="11" fill="#d0d0d0" stroke="#888"/>
<path d="M1437,24H1459M1448,13V35" stroke="#777"/>
<text x="1465" y="36" font-size="16">Sum</text>
<text x="1517" y="117" text-anchor="middle" font-size="16">Node</text>
<text x="1517" y="142" text-anchor="middle" font-size="16">Embeddings</text>
<text x="1418" y="221" font-size="16">Pooling</text>
<text x="1474" y="265" font-size="16">Joint Graph</text>
<text x="1474" y="289" font-size="16">Embedding</text>
<rect x="1386" y="320" width="124" height="77" rx="5" fill="#ffcccc" stroke="#888" stroke-width="1.2" filter="url(#sh)"/>
<text x="1448" y="353" text-anchor="middle" class="b" font-size="17">DDI Event</text>
<text x="1448" y="377" text-anchor="middle" class="b" font-size="17">Predictor</text>
<polyline points="1396,481 1396,606 1526,606" fill="none" stroke="#c55a11" stroke-width="1.5"/>
<rect x="1414" y="512" width="14" height="94" fill="#f4b183"/>
<rect x="1439" y="555" width="12" height="51" fill="#fbd5b5"/>
<rect x="1463" y="489" width="14" height="117" fill="#c55a11"/>
<text x="1490" y="592" font-size="16">. . .</text>
<text x="1480" y="641" text-anchor="middle" class="b" font-size="15">Predictions</text>
</svg>
</body></html>
